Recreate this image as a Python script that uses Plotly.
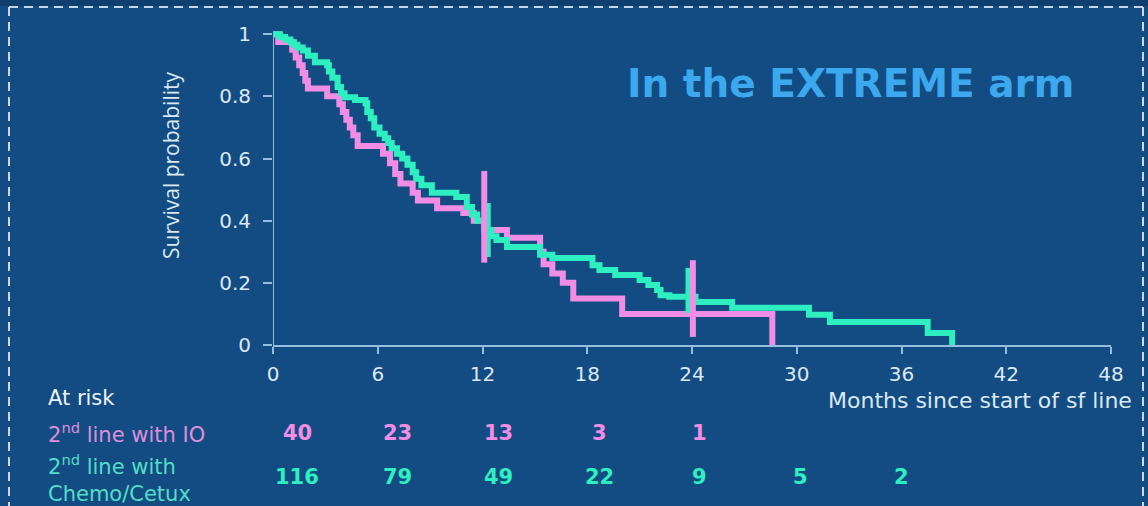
import plotly.graph_objects as go

# Kaplan-Meier step data (months, survival after each step)
months_io = [0, 0.3, 1.1, 1.3, 1.5, 1.7, 1.85, 2.0, 3.1, 3.8, 4.0, 4.2, 4.4, 4.6, 4.85,
             6.3, 6.7, 7.0, 7.3, 8.0, 8.3, 9.4, 10.9, 11.5, 12.2, 13.4, 15.3, 15.5,
             16.0, 16.6, 17.2, 20.0, 28.6]
surv_io = [1.0, 0.975, 0.95, 0.925, 0.9, 0.875, 0.85, 0.825, 0.8, 0.775, 0.75, 0.725, 0.7,
           0.675, 0.64, 0.615, 0.585, 0.55, 0.52, 0.49, 0.465, 0.44, 0.425, 0.40, 0.37,
           0.345, 0.3, 0.26, 0.23, 0.2, 0.15, 0.1, 0.0]

months_cc = [0, 0.4, 0.7, 1.0, 1.2, 1.4, 1.7, 2.0, 2.4, 3.1, 3.2, 3.4, 3.7, 3.9, 4.1, 4.7,
             5.3, 5.4, 5.6, 5.8, 6.1, 6.4, 6.6, 6.8, 7.1, 7.4, 7.7, 8.0, 8.2, 8.5, 9.1,
             10.5, 11.1, 11.4, 11.7, 12.1, 12.5, 12.8, 13.4, 15.3, 16.0, 18.3, 18.7,
             19.6, 21.0, 21.5, 22.0, 22.2, 22.7, 24.2, 26.3, 30.7, 31.9, 37.5, 38.9]
surv_cc = [1.0, 0.991, 0.983, 0.974, 0.966, 0.957, 0.948, 0.931, 0.91, 0.9, 0.88, 0.86,
           0.83, 0.81, 0.797, 0.788, 0.778, 0.75, 0.73, 0.70, 0.68, 0.665, 0.65, 0.633,
           0.615, 0.60, 0.58, 0.556, 0.535, 0.514, 0.49, 0.476, 0.444, 0.42, 0.40, 0.37,
           0.35, 0.338, 0.315, 0.29, 0.28, 0.257, 0.241, 0.225, 0.209, 0.193, 0.177,
           0.16, 0.155, 0.138, 0.12, 0.097, 0.074, 0.039, 0.0]

# Confidence intervals at the 12- and 24-month landmarks
ci_months_io = [12.1, 24.05]
ci_low_io = [0.265, 0.026]
ci_high_io = [0.56, 0.273]
ci_months_cc = [12.3, 23.8]
ci_low_cc = [0.283, 0.103]
ci_high_cc = [0.457, 0.248]

# Numbers at risk
risk_months = [0, 6, 12, 18, 24, 30, 36]
risk_io = [40, 23, 13, 3, 1]
risk_cc = [116, 79, 49, 22, 9, 5, 2]

x_ticks = [0, 6, 12, 18, 24, 30, 36, 42, 48]
y_ticks = [0, 0.2, 0.4, 0.6, 0.8, 1]
y_tick_text = ["0", "0.2", "0.4", "0.6", "0.8", "1"]

BG = "#124C83"
PINK = "#F18DE4"
GREEN = "#2EEFBF"
PINK_TXT = "#DE8FDC"
GREEN_TXT = "#52DEC6"
TXT = "#DCE8F3"
AXIS = "#93BEDF"
FONT = "DejaVu Sans"

W, H = 1148, 506
L, R, T, B = 273, 37, 28, 161


def px(x):
    return (x - L) / (W - L - R)


def py(y):
    return (H - B - y) / (H - T - B)


def ci_segments(xs, lo, hi):
    gx, gy = [], []
    for m, a, b in zip(xs, lo, hi):
        gx += [m, m, None]
        gy += [a, b, None]
    return gx, gy


fig = go.Figure()
fig.add_trace(go.Scatter(x=months_io, y=surv_io, mode="lines", line_shape="hv",
                         line=dict(color=PINK, width=6), hoverinfo="skip"))
fig.add_trace(go.Scatter(x=months_cc, y=surv_cc, mode="lines", line_shape="hv",
                         line=dict(color=GREEN, width=6), hoverinfo="skip"))
gx, gy = ci_segments(ci_months_cc, ci_low_cc, ci_high_cc)
fig.add_trace(go.Scatter(x=gx, y=gy, mode="lines", line=dict(color=GREEN, width=6),
                         hoverinfo="skip"))
gx, gy = ci_segments(ci_months_io, ci_low_io, ci_high_io)
fig.add_trace(go.Scatter(x=gx, y=gy, mode="lines", line=dict(color=PINK, width=6),
                         hoverinfo="skip"))

shapes = [
    # darker strip above the frame
    dict(type="rect", xref="paper", yref="paper", x0=px(0), x1=px(W), y0=py(0), y1=py(6),
         fillcolor="#0F3F6F", line_width=0, layer="below"),
    # y axis line from 0 to 1
    dict(type="line", xref="x", yref="y", x0=0, x1=0, y0=0, y1=1,
         line=dict(color=AXIS, width=2)),
]
frame = dict(color="#C8D7E6", width=2, dash="9px,6px")
shapes.append(dict(type="line", xref="paper", yref="paper", x0=px(9), x1=px(1143),
                   y0=py(7), y1=py(7), line=frame))
shapes.append(dict(type="line", xref="paper", yref="paper", x0=px(9), x1=px(9),
                   y0=py(7), y1=py(506), line=frame))
shapes.append(dict(type="line", xref="paper", yref="paper", x0=px(1143), x1=px(1143),
                   y0=py(7), y1=py(506), line=frame))

annotations = [
    dict(text="<b>In the EXTREME arm</b>", x=px(851), y=py(83), xref="paper", yref="paper",
         showarrow=False, xanchor="center", yanchor="middle",
         font=dict(family=FONT, size=39, color="#3CA8EE")),
    dict(text="Survival probability", x=px(171), y=py(165), xref="paper", yref="paper",
         showarrow=False, textangle=-90, xanchor="center", yanchor="middle",
         font=dict(family="Open Sans", size=21, color=TXT)),
    dict(text="Months since start of sf line", x=px(1134), y=py(400), xref="paper",
         yref="paper", showarrow=False, xanchor="right", yanchor="middle",
         font=dict(family=FONT, size=22, color=TXT)),
    dict(text="At risk", x=px(46), y=py(398), xref="paper", yref="paper", showarrow=False,
         xanchor="left", yanchor="middle", font=dict(family=FONT, size=21, color="#EEF3F8")),
    dict(text="2<sup>nd</sup> line with IO", x=px(46), y=py(433), xref="paper",
         yref="paper", showarrow=False, xanchor="left", yanchor="middle",
         font=dict(family=FONT, size=21, color=PINK_TXT)),
    dict(text="2<sup>nd</sup> line with<br>Chemo/Cetux", x=px(46), y=py(478), xref="paper",
         yref="paper", showarrow=False, xanchor="left", yanchor="middle", align="left",
         font=dict(family=FONT, size=21, color=GREEN_TXT)),
]

# at-risk table columns
col0, col_step = 297, 100.7
for i, n in enumerate(risk_io):
    annotations.append(dict(text=f"<b>{n}</b>", x=px(col0 + col_step * i), y=py(433),
                            xref="paper", yref="paper", showarrow=False,
                            xanchor="center", yanchor="middle",
                            font=dict(family=FONT, size=21, color=PINK)))
for i, n in enumerate(risk_cc):
    annotations.append(dict(text=f"<b>{n}</b>", x=px(col0 + col_step * i), y=py(477),
                            xref="paper", yref="paper", showarrow=False,
                            xanchor="center", yanchor="middle",
                            font=dict(family=FONT, size=21, color=GREEN)))

fig.update_layout(
    width=W, height=H,
    margin=dict(l=L, r=R, t=T, b=B),
    paper_bgcolor=BG, plot_bgcolor=BG,
    showlegend=False,
    shapes=shapes,
    annotations=annotations,
    xaxis=dict(range=[0, 48], tickvals=x_ticks, showgrid=False, zeroline=False,
               showline=True, linecolor=AXIS, linewidth=2, ticks="outside", ticklen=7,
               tickwidth=2, tickcolor=AXIS, ticklabelstandoff=3,
               tickfont=dict(family=FONT, size=20, color=TXT), fixedrange=True),
    yaxis=dict(range=[0, 1.02], tickvals=y_ticks, ticktext=y_tick_text, showgrid=False,
               zeroline=False, showline=False, ticks="outside", ticklen=9, tickwidth=2,
               tickcolor=AXIS, ticklabelstandoff=8,
               tickfont=dict(family=FONT, size=20, color=TXT), fixedrange=True),
)

fig.write_html("out.html")
